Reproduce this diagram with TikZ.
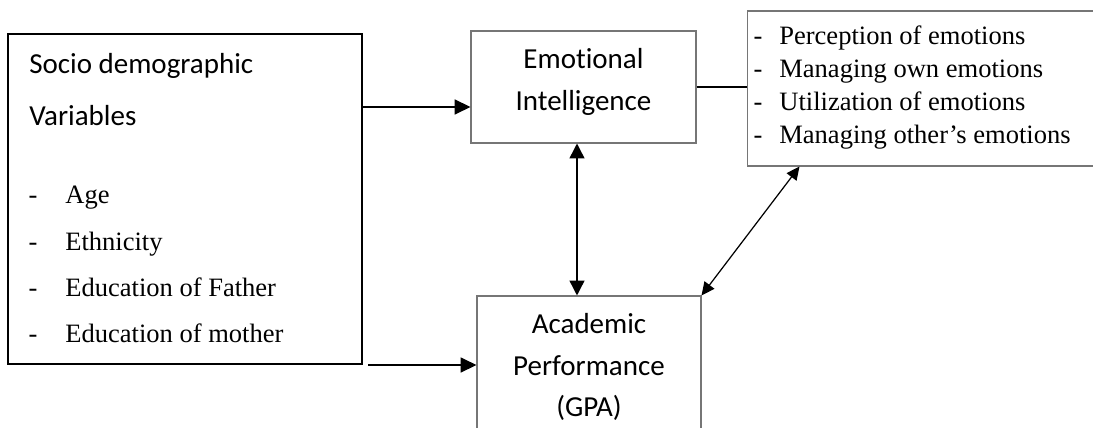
\documentclass[tikz,border=0pt]{standalone}
\usepackage{fontspec}
\setmainfont{Liberation Serif}
\newfontfamily\titlefont[Ligatures=NoCommon]{Carlito}
\usetikzlibrary{positioning,arrows.meta,calc}
\definecolor{boxgray}{RGB}{118,118,118}

\tikzset{
  sdbox/.style={draw=black,line width=1.2pt,inner sep=0pt},
  grbox/.style={draw=boxgray,line width=0.6pt,inner sep=0pt},
  titletext/.style={font=\titlefont\fontsize{16.5}{23.6}\selectfont,align=center,inner sep=0pt},
  headtext/.style={font=\titlefont\fontsize{16.5}{20}\selectfont,anchor=base west,inner sep=0pt},
  itemtext/.style={font=\fontsize{15.1}{18}\selectfont,anchor=base west,inner sep=0pt},
  itemdash/.style={font=\fontsize{15.1}{18}\selectfont,anchor=base,inner sep=0pt},
  arr/.style={line width=0.85pt,-{Triangle[length=9pt,width=8.5pt]}},
  dbl/.style={line width=0.85pt,{Triangle[length=8.5pt,width=8.5pt]}-{Triangle[length=8.5pt,width=8.5pt]}},
  diag/.style={line width=0.7pt,{Triangle[length=7.5pt,width=7pt]}-{Triangle[length=7.5pt,width=7pt]}},
  conn/.style={line width=0.85pt}
}

\begin{document}
\begin{tikzpicture}[x=0.02cm,y=-0.02cm]
  \useasboundingbox (0,0) rectangle (1093,428);
  \clip (0,0) rectangle (1093,428);

  % boxes
  \node[sdbox,minimum width=7.08cm,minimum height=6.6cm] (sd) at (185,199) {};
  \node[grbox,minimum width=4.5cm,minimum height=2.24cm] (ei) at (583.5,87) {};
  \node[grbox,minimum width=4.48cm,minimum height=2.88cm] (ap) at (589,368) {};
  \node[grbox,minimum width=7.0cm,minimum height=3.1cm] (ld) at (922,88.5) {};

  % texts
  \node[titletext] (ei-t) at (583.5,82) {Emotional\\Intelligence};
  \node[titletext] (ap-t) at (589,367) {Academic\\Performance\\(GPA)};
  \node[headtext] (sd-h1) at (29,74) {Socio demographic};
  \node[headtext] (sd-h2) at (29,126) {Variables};
  \foreach \t [count=\i] in {Age,Ethnicity,Education of Father,Education of mother} {
    \node[itemdash] (sd-d\i) at (33,{204+46.3*(\i-1)}) {-};
    \node[itemtext] (sd-\i) at (65,{204+46.3*(\i-1)}) {\t};
  }
  \foreach \t [count=\i] in {Perception of emotions,Managing own emotions,Utilization of emotions,Managing other’s emotions} {
    \node[itemdash] (ld-d\i) at (758,{45+33*(\i-1)}) {-};
    \node[itemtext] (ld-\i) at (779,{45+33*(\i-1)}) {\t};
  }

  % connectors
  \coordinate (eiin) at ($(ei.west)+(0,20)$);
  \draw[arr] (sd.east |- eiin) -- (eiin);
  \draw[arr] ($(sd.south east)+(5,0)$) -- (ap.west |- sd.south);
  \coordinate (vtop) at ($(ei.south)+(-6.5,0)$);
  \draw[dbl] (vtop) -- (vtop |- ap.north);
  \draw[conn] (ei.east) -- (ei.east -| ld.west);
  \draw[diag] (ap.north east) -- ($(ld.south west)+(53,0)$);
\end{tikzpicture}
\end{document}
